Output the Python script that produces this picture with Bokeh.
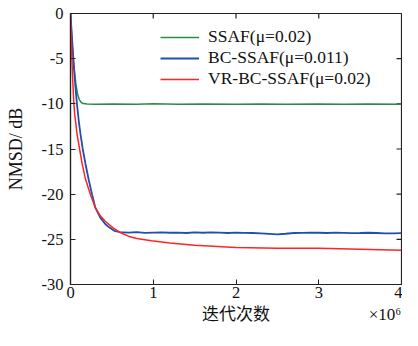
import math
from bokeh.plotting import figure
from bokeh.models import FixedTicker, Legend, LegendItem, LinearAxis, Range1d
from bokeh.embed import file_html
from bokeh.resources import INLINE

# ---- data (x in units of 1e6 iterations, y in dB) ----
green_x = [0, 0.01, 0.02, 0.035, 0.05, 0.065, 0.085, 0.105, 0.13, 0.155, 0.2, 0.3, 0.5, 0.8,
           1.0, 1.3, 1.6, 2.0, 2.3, 2.6, 3.0, 3.3, 3.6, 4.0]
green_y = [0, -1.8, -3.4, -5.2, -6.6, -7.8, -8.9, -9.5, -9.85, -9.97, -10.03, -10.05, -10.02, -10.05,
           -10.0, -10.04, -10.02, -10.05, -10.01, -10.04, -10.03, -10.05, -10.02, -10.04]

blue_x = [0, 0.01, 0.02, 0.04, 0.06, 0.08, 0.1, 0.12, 0.148, 0.18, 0.22, 0.26, 0.3, 0.36, 0.42,
          0.47, 0.53, 0.6, 0.7, 0.8, 0.9, 1.0, 1.1, 1.2, 1.3, 1.4, 1.5, 1.6, 1.7, 1.8, 1.9, 2.0,
          2.1, 2.2, 2.3, 2.4, 2.5, 2.6, 2.7, 2.8, 2.9, 3.0, 3.1, 3.2, 3.3, 3.4, 3.5, 3.6, 3.7,
          3.8, 3.9, 4.0]
blue_y = [0, -1.5, -3.0, -5.8, -8.2, -10.2, -11.9, -13.3, -15.0, -16.6, -18.4, -20.0, -21.5, -22.6,
          -23.3, -23.7, -24.05, -24.2, -24.25, -24.2, -24.28, -24.25, -24.22, -24.27, -24.25, -24.3,
          -24.24, -24.27, -24.22, -24.26, -24.3, -24.25, -24.28, -24.3, -24.35, -24.4, -24.45,
          -24.38, -24.3, -24.28, -24.25, -24.27, -24.3, -24.26, -24.28, -24.32, -24.3, -24.27,
          -24.3, -24.33, -24.35, -24.32]

red_x = [0, 0.01, 0.02, 0.03, 0.04, 0.05, 0.066, 0.08, 0.11, 0.14, 0.18, 0.24, 0.3, 0.36, 0.42,
         0.51, 0.6, 0.7, 0.8, 0.98, 1.2, 1.5, 2.0, 2.5, 3.0, 3.5, 4.0]
red_y = [0, -3.2, -5.8, -8.0, -9.9, -11.1, -12.3, -13.4, -15.0, -16.6, -18.3, -20.0, -21.5, -22.4,
         -23.0, -23.7, -24.25, -24.65, -24.9, -25.15, -25.4, -25.65, -25.9, -26.0, -26.0, -26.1, -26.2]

x_ticks = [0, 1, 2, 3, 4]
x_tick_labels = ["0", "1", "2", "3", "4"]
y_ticks = [0, -5, -10, -15, -20, -25, -30]
y_tick_labels = ["0", "-5", "-10", "-15", "-20", "-25", "-30"]
labels = ["SSAF(μ=0.02)", "BC-SSAF(μ=0.011)", "VR-BC-SSAF(μ=0.02)"]
colors = ["#2E8B43", "#1F4FB4", "#FF2424"]
x_title = "迭代次数"
x_scale_note = "×10⁶"

# layout constants (where the two bottom texts sit, in x-axis units)
X_TITLE_POS = 2
X_NOTE_POS = 3.8

FONT = "Liberation Serif"
AXC = "#222222"

p = figure(output_backend="svg", toolbar_location=None,
           width=402, height=330,
           min_border_left=70, min_border_right=1, min_border_top=13, min_border_bottom=46,
           x_range=Range1d(min(x_ticks), max(x_ticks)), y_range=Range1d(min(y_ticks), max(y_ticks)))
p.grid.visible = False
p.outline_line_color = AXC
p.outline_line_width = 1.2

for ax in (p.xaxis[0], p.yaxis[0]):
    ax.major_tick_in = 5
    ax.major_tick_out = 0
    ax.minor_tick_in = 0
    ax.minor_tick_out = 0
    ax.axis_line_color = AXC
    ax.axis_line_width = 1.2
    ax.major_tick_line_color = AXC
    ax.major_label_text_font = FONT
    ax.major_label_text_font_size = "16.5px"
    ax.major_label_text_color = "#111111"
    ax.axis_label_text_font_style = "normal"
    ax.axis_label_text_color = "#111111"

p.xaxis[0].ticker = FixedTicker(ticks=x_ticks)
p.yaxis[0].ticker = FixedTicker(ticks=y_ticks)
p.xaxis[0].major_label_overrides = dict(zip(x_ticks, x_tick_labels))
p.yaxis[0].major_label_overrides = dict(zip(y_ticks, y_tick_labels))
p.xaxis[0].major_label_standoff = 2
p.yaxis[0].major_label_standoff = 7

p.yaxis[0].axis_label = "NMSD/ dB"
p.yaxis[0].axis_label_text_font = FONT
p.yaxis[0].axis_label_text_font_size = "18px"
p.yaxis[0].axis_label_standoff = 13

# second row under the x axis: axis title (centre) and the x10^6 scale note (right)
xrow = LinearAxis(ticker=FixedTicker(ticks=[X_TITLE_POS, X_NOTE_POS]),
                  major_label_overrides={X_TITLE_POS: x_title, X_NOTE_POS: x_scale_note},
                  major_tick_in=0, major_tick_out=0, minor_tick_in=0, minor_tick_out=0,
                  axis_line_color=None, major_label_standoff=4,
                  major_label_text_font=FONT + ", Noto Sans CJK SC",
                  major_label_text_font_size="17px", major_label_text_color="#111111")
p.add_layout(xrow, "below")

# mirrored inward ticks on the top and right edges (outer half clipped by the frame)
p.scatter(x_ticks[1:-1], [max(y_ticks)] * (len(x_ticks) - 2), marker="dash", size=10,
          angle=math.pi / 2, line_color=AXC, line_width=1.2)
p.scatter([max(x_ticks)] * (len(y_ticks) - 2), y_ticks[1:-1], marker="dash", size=10,
          line_color=AXC, line_width=1.2)

r_g = p.line(green_x, green_y, color=colors[0], line_width=1.5)
r_b = p.line(blue_x, blue_y, color=colors[1], line_width=1.8)
r_r = p.line(red_x, red_y, color=colors[2], line_width=1.5)

legend = Legend(items=[LegendItem(label=labels[0], renderers=[r_g]),
                       LegendItem(label=labels[1], renderers=[r_b]),
                       LegendItem(label=labels[2], renderers=[r_r])],
                location=(90, 195), border_line_color=None, background_fill_alpha=0,
                padding=0, margin=0, spacing=-4, glyph_width=39, glyph_height=18,
                label_height=18, label_standoff=9, label_text_font=FONT,
                label_text_font_size="17.5px", label_text_color="#111111")
p.add_layout(legend, "center")

open("out.html", "w").write(file_html(p, INLINE))
